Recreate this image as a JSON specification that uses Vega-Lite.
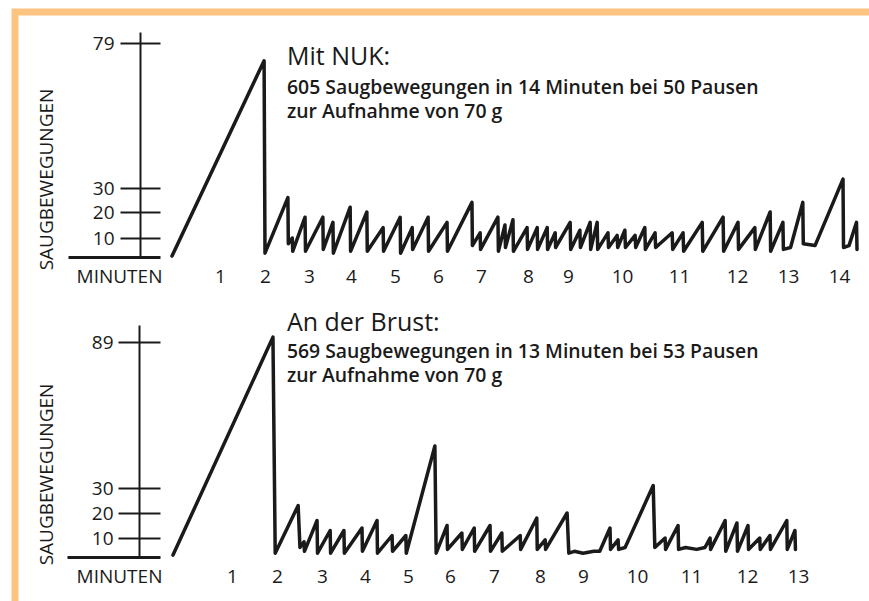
{
  "$schema": "https://vega.github.io/schema/vega-lite/v6.json",
  "width": 854,
  "height": 589,
  "autosize": "none",
  "padding": {"left": 15, "top": 12, "right": 0, "bottom": 0},
  "background": "white",
  "config": {
    "view": {"stroke": "#FCC480", "strokeWidth": 7, "strokeDash": [854, 1443, 589], "strokeCap": "square"},
    "font": "Open Sans",
    "axis": {"labelFont": "Open Sans", "titleFont": "Open Sans", "labelColor": "#1a1a1a", "titleColor": "#1a1a1a", "domainColor": "#1a1a1a", "tickColor": "#1a1a1a", "grid": false}
  },
  "datasets": {
    "nuk": [
      {"t":0,"v":0.5},{"t":1.98,"v":73},{"t":2.0,"v":2},{"t":2.52,"v":26},{"t":2.53,"v":7},{"t":2.62,"v":10},{"t":2.63,"v":3},{"t":2.91,"v":18},{"t":2.92,"v":3},{"t":3.33,"v":18},{"t":3.34,"v":4},{"t":3.57,"v":16},{"t":3.58,"v":2},{"t":3.98,"v":22},{"t":3.99,"v":3},{"t":4.36,"v":20},{"t":4.37,"v":3},{"t":4.73,"v":14},{"t":4.74,"v":3},{"t":5.12,"v":18},{"t":5.13,"v":2},{"t":5.40,"v":14},{"t":5.41,"v":4},{"t":5.77,"v":18},{"t":5.78,"v":3},{"t":6.21,"v":16},{"t":6.22,"v":3},{"t":6.79,"v":24},{"t":6.80,"v":6},{"t":6.98,"v":12},{"t":6.99,"v":4},{"t":7.36,"v":18},{"t":7.37,"v":3},{"t":7.51,"v":15},{"t":7.52,"v":5},{"t":7.68,"v":17},{"t":7.69,"v":3},{"t":7.98,"v":14},{"t":7.99,"v":4},{"t":8.23,"v":14},{"t":8.24,"v":4},{"t":8.48,"v":14},{"t":8.49,"v":4},{"t":8.68,"v":12},{"t":8.69,"v":5},{"t":9.04,"v":16},{"t":9.05,"v":4},{"t":9.22,"v":13},{"t":9.23,"v":5},{"t":9.41,"v":16},{"t":9.42,"v":4},{"t":9.54,"v":16},{"t":9.55,"v":4},{"t":9.74,"v":12},{"t":9.75,"v":5},{"t":9.91,"v":11},{"t":9.92,"v":5},{"t":10.05,"v":13},{"t":10.06,"v":5},{"t":10.23,"v":11},{"t":10.24,"v":5},{"t":10.40,"v":14},{"t":10.41,"v":4},{"t":10.58,"v":12},{"t":10.59,"v":5},{"t":10.88,"v":12},{"t":10.89,"v":4},{"t":11.07,"v":12},{"t":11.08,"v":3},{"t":11.40,"v":16},{"t":11.41,"v":3},{"t":11.76,"v":18},{"t":11.77,"v":3},{"t":12.02,"v":16},{"t":12.03,"v":4},{"t":12.35,"v":14},{"t":12.36,"v":4},{"t":12.65,"v":20},{"t":12.66,"v":3},{"t":12.90,"v":16},{"t":12.91,"v":4},{"t":13.05,"v":5},{"t":13.29,"v":24},{"t":13.30,"v":7},{"t":13.53,"v":6},{"t":14.08,"v":33},{"t":14.09,"v":5},{"t":14.2,"v":6},{"t":14.35,"v":16},{"t":14.36,"v":4}
    ],
    "brust": [
      {"t":0,"v":1},{"t":1.91,"v":91},{"t":1.96,"v":2},{"t":2.47,"v":23},{"t":2.51,"v":5},{"t":2.6,"v":8},{"t":2.61,"v":3},{"t":2.89,"v":17},{"t":2.90,"v":2},{"t":3.19,"v":13},{"t":3.20,"v":2},{"t":3.51,"v":13},{"t":3.52,"v":2},{"t":3.93,"v":14},{"t":3.94,"v":3},{"t":4.28,"v":17},{"t":4.29,"v":2},{"t":4.63,"v":11},{"t":4.64,"v":3},{"t":4.95,"v":11},{"t":4.96,"v":2},{"t":5.64,"v":47},{"t":5.67,"v":2},{"t":5.93,"v":15},{"t":5.94,"v":4},{"t":6.27,"v":12},{"t":6.28,"v":4},{"t":6.55,"v":14},{"t":6.56,"v":3},{"t":6.91,"v":15},{"t":6.92,"v":3},{"t":7.17,"v":12},{"t":7.18,"v":3},{"t":7.57,"v":11},{"t":7.58,"v":4},{"t":7.93,"v":18},{"t":7.94,"v":4},{"t":8.12,"v":9},{"t":8.13,"v":4},{"t":8.63,"v":20},{"t":8.67,"v":2},{"t":8.8,"v":3},{"t":9.0,"v":2},{"t":9.2,"v":3},{"t":9.31,"v":3},{"t":9.50,"v":14},{"t":9.51,"v":4},{"t":9.65,"v":9},{"t":9.66,"v":4},{"t":9.78,"v":5},{"t":10.30,"v":31},{"t":10.33,"v":5},{"t":10.52,"v":10},{"t":10.53,"v":4},{"t":10.76,"v":15},{"t":10.77,"v":4},{"t":10.9,"v":5},{"t":11.1,"v":4},{"t":11.25,"v":5},{"t":11.34,"v":10},{"t":11.35,"v":4},{"t":11.61,"v":17},{"t":11.62,"v":3},{"t":11.82,"v":16},{"t":11.83,"v":3},{"t":12.02,"v":15},{"t":12.03,"v":4},{"t":12.25,"v":10},{"t":12.26,"v":4},{"t":12.45,"v":11},{"t":12.46,"v":4},{"t":12.78,"v":17},{"t":12.79,"v":4},{"t":12.94,"v":13},{"t":12.95,"v":4}
    ],
    "notes": [
      {"panel": "top", "head": "Mit NUK:", "body": "605 Saugbewegungen in 14 Minuten bei 50 Pausen\nzur Aufnahme von 70 g"},
      {"panel": "bottom", "head": "An der Brust:", "body": "569 Saugbewegungen in 13 Minuten bei 53 Pausen\nzur Aufnahme von 70 g"}
    ]
  },
  "layer": [
    {
      "data": {"name": "nuk"},
      "mark": {"type": "line", "color": "#1a1a1a", "strokeWidth": 3.5, "strokeJoin": "round", "strokeCap": "round"},
      "encoding": {
        "x": {"field": "t", "type": "quantitative",
          "scale": {"domain": [0,1,2,3,4,5,6,7,8,9,10,11,12,13,14,14.6], "range": [157,205,250,294,336,380,423,466,513,553,607,664,722,773,824,854], "nice": false, "zero": false},
          "axis": {"orient": "bottom", "offset": -344, "values": [1,2,3,4,5,6,7,8,9,10,11,12,13,14], "format": "d", "domain": false, "ticks": false, "tickSize": 0, "labelFontSize": 19, "labelPadding": 10, "labelFlush": false, "labelOverlap": false, "title": "MINUTEN", "titleX": 104, "titleY": 10, "titleAlign": "center", "titleBaseline": "top", "titleFontSize": 19, "titleFontWeight": "normal"}},
        "y": {"field": "v", "type": "quantitative",
          "scale": {"domain": [0,10,20,30,79,82.7], "range": [245,226,200,176,31,20], "nice": false, "zero": false},
          "axis": {"orient": "left", "offset": -125, "values": [10,20,30,79], "domain": true, "domainWidth": 2, "ticks": true, "tickSize": 20, "tickWidth": 2, "labelFontSize": 19, "labelPadding": 6, "title": "SAUGBEWEGUNGEN", "titleX": -94, "titleY": 167, "titleAngle": -90, "titleAlign": "center", "titleBaseline": "middle", "titleFontSize": 19, "titleFontWeight": "normal"}}
      }
    },
    {
      "data": {"name": "notes"},
      "transform": [{"filter": "datum.panel === 'top'"}],
      "mark": {"type": "text", "align": "left", "baseline": "alphabetic", "fontSize": 25, "fontWeight": 500, "color": "#1a1a1a"},
      "encoding": {
        "text": {"field": "head"},
        "x": {"datum": 2.5, "type": "quantitative",
          "scale": {"domain": [0,1,2,3,4,5,6,7,8,9,10,11,12,13,14,14.6], "range": [157,205,250,294,336,380,423,466,513,553,607,664,722,773,824,854], "nice": false, "zero": false},
          "axis": null},
        "y": {"datum": 71.6, "type": "quantitative",
          "scale": {"domain": [0,10,20,30,79,82.7], "range": [245,226,200,176,31,20], "nice": false, "zero": false},
          "axis": {"orient": "left", "offset": -145, "values": [0,10,20,30,79], "domain": false, "labels": false, "ticks": true,
            "tickSize": {"condition": {"test": "datum.value === 0", "value": 92}, "value": 20},
            "tickWidth": {"condition": {"test": "datum.value === 0", "value": 3}, "value": 2},
            "title": null}}
      }
    },
    {
      "data": {"name": "notes"},
      "transform": [{"filter": "datum.panel === 'top'"}],
      "mark": {"type": "text", "align": "left", "baseline": "alphabetic", "fontSize": 19.4, "fontWeight": 600, "lineBreak": "\n", "lineHeight": 24, "color": "#1a1a1a"},
      "encoding": {
        "text": {"field": "body"},
        "x": {"datum": 2.5, "type": "quantitative",
          "scale": {"domain": [0,1,2,3,4,5,6,7,8,9,10,11,12,13,14,14.6], "range": [157,205,250,294,336,380,423,466,513,553,607,664,722,773,824,854], "nice": false, "zero": false},
          "axis": null},
        "y": {"datum": 61.8, "type": "quantitative",
          "scale": {"domain": [0,10,20,30,79,82.7], "range": [245,226,200,176,31,20], "nice": false, "zero": false},
          "axis": null}
      }
    },
    {
      "data": {"name": "brust"},
      "mark": {"type": "line", "color": "#1a1a1a", "strokeWidth": 3.5, "strokeJoin": "round", "strokeCap": "round"},
      "encoding": {
        "x": {"field": "t", "type": "quantitative",
          "scale": {"domain": [0,1,2,3,4,5,6,7,8,9,10,11,12,13,14.3], "range": [158,217,262,307,350,393,435,479,525,568,622,676,732,783,849], "nice": false, "zero": false},
          "axis": {"orient": "bottom", "offset": -44, "values": [1,2,3,4,5,6,7,8,9,10,11,12,13], "format": "d", "domain": false, "ticks": false, "tickSize": 0, "labelFontSize": 19, "labelPadding": 10, "labelFlush": false, "labelOverlap": false, "title": "MINUTEN", "titleX": 104, "titleY": 10, "titleAlign": "center", "titleBaseline": "top", "titleFontSize": 19, "titleFontWeight": "normal"}},
        "y": {"field": "v", "type": "quantitative",
          "scale": {"domain": [0,10,20,30,89,96], "range": [545,526,501,476,330,313], "nice": false, "zero": false},
          "axis": {"orient": "left", "offset": -124, "values": [10,20,30,89], "domain": true, "domainWidth": 2, "ticks": true, "tickSize": 21, "tickWidth": 2, "labelFontSize": 19, "labelPadding": 5, "title": "SAUGBEWEGUNGEN", "titleX": -93, "titleY": 462, "titleAngle": -90, "titleAlign": "center", "titleBaseline": "middle", "titleFontSize": 19, "titleFontWeight": "normal"}}
      }
    },
    {
      "data": {"name": "notes"},
      "transform": [{"filter": "datum.panel === 'bottom'"}],
      "mark": {"type": "text", "align": "left", "baseline": "alphabetic", "fontSize": 25, "fontWeight": 500, "color": "#1a1a1a"},
      "encoding": {
        "text": {"field": "head"},
        "x": {"datum": 2.22, "type": "quantitative",
          "scale": {"domain": [0,1,2,3,4,5,6,7,8,9,10,11,12,13,14.3], "range": [158,217,262,307,350,393,435,479,525,568,622,676,732,783,849], "nice": false, "zero": false},
          "axis": null},
        "y": {"datum": 93.4, "type": "quantitative",
          "scale": {"domain": [0,10,20,30,89,96], "range": [545,526,501,476,330,313], "nice": false, "zero": false},
          "axis": {"orient": "left", "offset": -145, "values": [0,10,20,30,89], "domain": false, "labels": false, "ticks": true,
            "tickSize": {"condition": {"test": "datum.value === 0", "value": 93}, "value": 21},
            "tickWidth": {"condition": {"test": "datum.value === 0", "value": 3}, "value": 2},
            "title": null}}
      }
    },
    {
      "data": {"name": "notes"},
      "transform": [{"filter": "datum.panel === 'bottom'"}],
      "mark": {"type": "text", "align": "left", "baseline": "alphabetic", "fontSize": 19.4, "fontWeight": 600, "lineBreak": "\n", "lineHeight": 24, "color": "#1a1a1a"},
      "encoding": {
        "text": {"field": "body"},
        "x": {"datum": 2.22, "type": "quantitative",
          "scale": {"domain": [0,1,2,3,4,5,6,7,8,9,10,11,12,13,14.3], "range": [158,217,262,307,350,393,435,479,525,568,622,676,732,783,849], "nice": false, "zero": false},
          "axis": null},
        "y": {"datum": 82.5, "type": "quantitative",
          "scale": {"domain": [0,10,20,30,89,96], "range": [545,526,501,476,330,313], "nice": false, "zero": false},
          "axis": null}
      }
    }
  ],
  "resolve": {"scale": {"x": "independent", "y": "independent"}, "axis": {"x": "independent", "y": "independent"}}
}
